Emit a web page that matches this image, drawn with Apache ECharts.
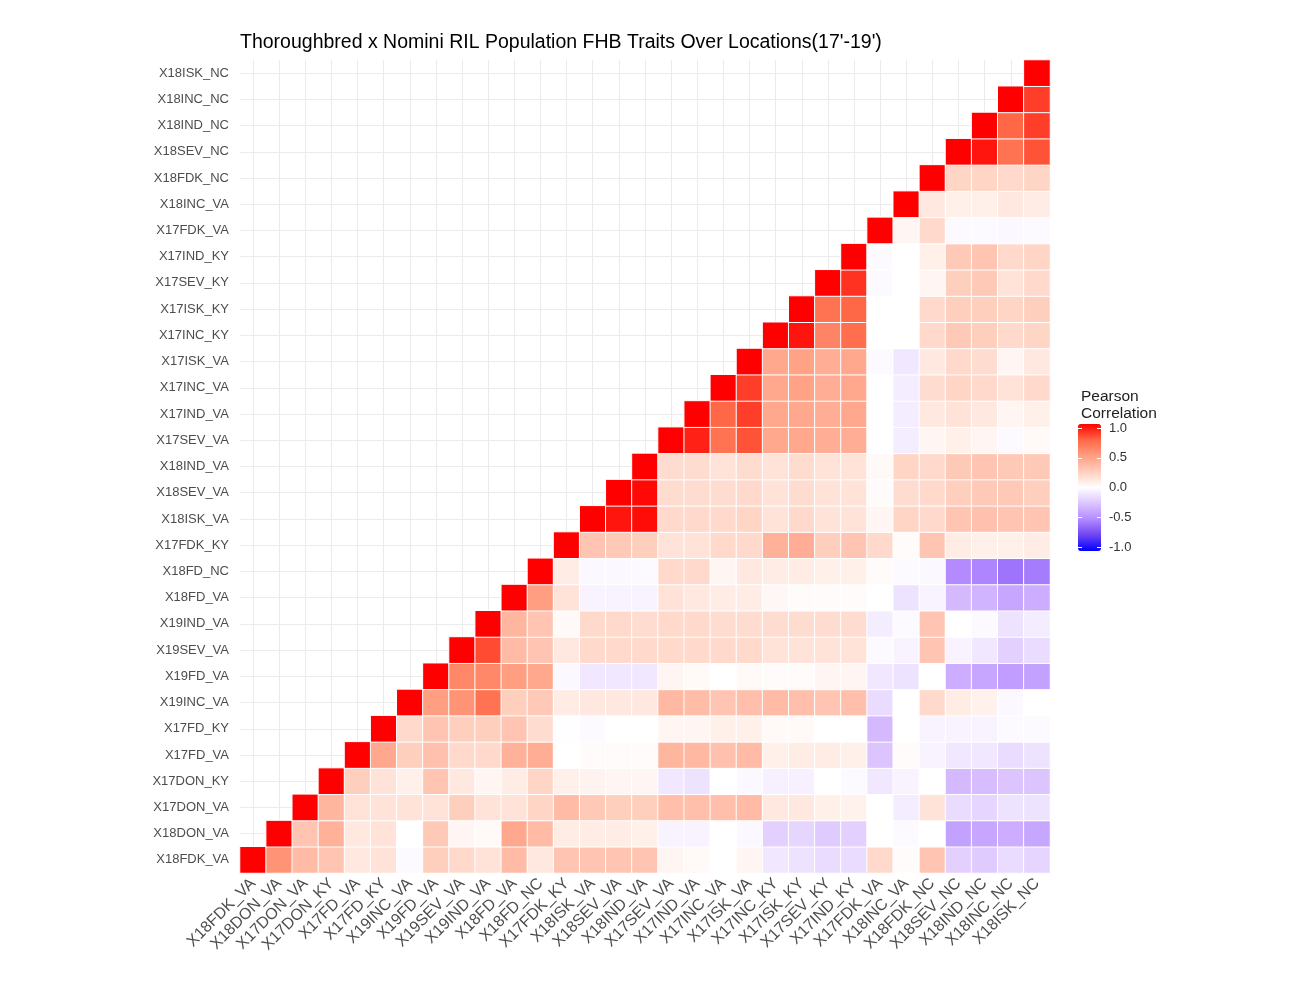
<!DOCTYPE html>
<html>
<head>
<meta charset="utf-8">
<script src="https://cdn.jsdelivr.net/npm/echarts@6/dist/echarts.min.js"></script>
<style>
html, body { margin: 0; padding: 0; background: #fff; }
#main { width: 1307px; height: 1007px; }
</style>
</head>
<body>
<div id="main"></div>
<script>
var traits = [
    'X18FDK_VA', 'X18DON_VA', 'X17DON_VA', 'X17DON_KY', 'X17FD_VA', 'X17FD_KY',
    'X19INC_VA', 'X19FD_VA', 'X19SEV_VA', 'X19IND_VA', 'X18FD_VA', 'X18FD_NC',
    'X17FDK_KY', 'X18ISK_VA', 'X18SEV_VA', 'X18IND_VA', 'X17SEV_VA', 'X17IND_VA',
    'X17INC_VA', 'X17ISK_VA', 'X17INC_KY', 'X17ISK_KY', 'X17SEV_KY', 'X17IND_KY',
    'X17FDK_VA', 'X18INC_VA', 'X18FDK_NC', 'X18SEV_NC', 'X18IND_NC', 'X18INC_NC',
    'X18ISK_NC'
];

// one array per row (bottom to top), values from the diagonal to the last column
var r_X18FDK_VA = [1, 0.55, 0.35, 0.3, 0.12, 0.15, -0.02, 0.25, 0.2, 0.15, 0.35, 0.12, 0.3, 0.3, 0.3, 0.3, 0.05, 0.03, 0, 0.05, -0.1, -0.12, -0.15, -0.15, 0.2, 0.02, 0.3, -0.2, -0.22, -0.15, -0.18];
var r_X18DON_VA = [1, 0.3, 0.4, 0.12, 0.15, 0, 0.28, 0.05, 0.03, 0.45, 0.35, 0.1, 0.1, 0.1, 0.08, -0.05, -0.05, 0, -0.03, -0.2, -0.18, -0.22, -0.2, 0, -0.02, 0, -0.4, -0.38, -0.35, -0.38];
var r_X17DON_VA = [1, 0.38, 0.15, 0.15, 0.15, 0.15, 0.25, 0.15, 0.15, 0.22, 0.35, 0.28, 0.25, 0.25, 0.33, 0.33, 0.33, 0.35, 0.12, 0.12, 0.08, 0.07, 0, -0.08, 0.15, -0.15, -0.18, -0.12, -0.12];
var r_X17DON_KY = [1, 0.25, 0.15, 0.08, 0.3, 0.12, 0.05, 0.1, 0.22, 0.08, 0.06, 0.05, 0.05, -0.1, -0.12, 0, -0.03, -0.06, -0.06, 0, -0.02, -0.1, -0.05, 0, -0.3, -0.28, -0.25, -0.25];
var r_X17FD_VA = [1, 0.45, 0.25, 0.32, 0.2, 0.2, 0.4, 0.42, 0, 0.02, 0.02, 0.02, 0.38, 0.36, 0.32, 0.35, 0.08, 0.1, 0.1, 0.08, -0.25, 0.02, -0.05, -0.1, -0.1, -0.15, -0.12];
var r_X17FD_KY = [1, 0.2, 0.3, 0.25, 0.25, 0.3, 0.18, -0.01, -0.02, 0, 0, 0.05, 0.05, 0.08, 0.08, 0.03, 0.03, 0, 0, -0.3, 0, -0.05, -0.05, -0.05, -0.02, -0.02];
var r_X19INC_VA = [1, 0.5, 0.55, 0.7, 0.25, 0.28, 0.1, 0.12, 0.12, 0.12, 0.36, 0.34, 0.3, 0.33, 0.35, 0.33, 0.3, 0.33, -0.15, 0, 0.2, 0.1, 0.07, -0.03, 0];
var r_X19FD_VA = [1, 0.6, 0.6, 0.5, 0.45, -0.03, -0.1, -0.1, -0.1, 0.05, 0.03, 0, 0.03, 0.02, 0.02, 0.05, 0.05, -0.1, -0.12, 0, -0.35, -0.38, -0.42, -0.4];
var r_X19SEV_VA = [1, 0.82, 0.35, 0.3, 0.12, 0.2, 0.2, 0.2, 0.2, 0.2, 0.2, 0.2, 0.15, 0.15, 0.15, 0.15, -0.02, -0.05, 0.3, -0.05, -0.1, -0.2, -0.15];
var r_X19IND_VA = [1, 0.38, 0.3, 0.03, 0.2, 0.2, 0.18, 0.2, 0.2, 0.18, 0.18, 0.18, 0.18, 0.18, 0.18, -0.08, -0.02, 0.3, 0, -0.02, -0.12, -0.08];
var r_X18FD_VA = [1, 0.5, 0.15, -0.05, -0.05, -0.05, 0.15, 0.12, 0.1, 0.1, 0.04, 0.02, 0.02, 0.02, 0, -0.12, -0.05, -0.3, -0.32, -0.38, -0.35];
var r_X18FD_NC = [1, 0.1, -0.03, -0.03, -0.02, 0.2, 0.2, 0.05, 0.12, 0.1, 0.1, 0.08, 0.08, 0.02, -0.02, -0.03, -0.5, -0.52, -0.58, -0.55];
var r_X17FDK_KY = [1, 0.3, 0.28, 0.25, 0.15, 0.15, 0.2, 0.2, 0.4, 0.42, 0.25, 0.3, 0.2, 0.02, 0.3, 0.1, 0.08, 0.08, 0.1];
var r_X18ISK_VA = [1, 0.95, 0.97, 0.2, 0.2, 0.2, 0.22, 0.15, 0.2, 0.15, 0.15, 0.05, 0.22, 0.2, 0.3, 0.32, 0.3, 0.3];
var r_X18SEV_VA = [1, 0.98, 0.18, 0.18, 0.18, 0.2, 0.15, 0.18, 0.15, 0.15, 0.02, 0.18, 0.2, 0.25, 0.28, 0.28, 0.25];
var r_X18IND_VA = [1, 0.18, 0.18, 0.15, 0.18, 0.15, 0.18, 0.15, 0.15, 0.03, 0.22, 0.2, 0.28, 0.3, 0.28, 0.28];
var r_X17SEV_VA = [1, 0.92, 0.7, 0.8, 0.45, 0.45, 0.42, 0.42, 0, -0.08, 0.05, 0.08, 0.05, -0.02, 0.03];
var r_X17IND_VA = [1, 0.75, 0.85, 0.45, 0.45, 0.42, 0.45, 0, -0.08, 0.12, 0.15, 0.12, 0.05, 0.08];
var r_X17INC_VA = [1, 0.85, 0.45, 0.48, 0.42, 0.45, 0, -0.08, 0.18, 0.22, 0.2, 0.15, 0.2];
var r_X17ISK_VA = [1, 0.45, 0.48, 0.42, 0.45, -0.02, -0.1, 0.12, 0.2, 0.18, 0.05, 0.12];
var r_X17INC_KY = [1, 0.95, 0.62, 0.72, 0, 0, 0.2, 0.28, 0.25, 0.2, 0.22];
var r_X17ISK_KY = [1, 0.7, 0.75, 0, 0, 0.2, 0.25, 0.25, 0.22, 0.25];
var r_X17SEV_KY = [1, 0.88, -0.02, 0, 0.05, 0.25, 0.28, 0.15, 0.2];
var r_X17IND_KY = [1, -0.02, 0, 0.08, 0.28, 0.3, 0.2, 0.22];
var r_X17FDK_VA = [1, 0.05, 0.2, -0.02, -0.02, -0.03, -0.02];
var r_X18INC_VA = [1, 0.12, 0.08, 0.08, 0.12, 0.1];
var r_X18FDK_NC = [1, 0.22, 0.22, 0.2, 0.22];
var r_X18SEV_NC = [1, 0.95, 0.7, 0.8];
var r_X18IND_NC = [1, 0.75, 0.85];
var r_X18INC_NC = [1, 0.85];
var r_X18ISK_NC = [1];

var rows = [
    r_X18FDK_VA, r_X18DON_VA, r_X17DON_VA, r_X17DON_KY, r_X17FD_VA, r_X17FD_KY,
    r_X19INC_VA, r_X19FD_VA, r_X19SEV_VA, r_X19IND_VA, r_X18FD_VA, r_X18FD_NC,
    r_X17FDK_KY, r_X18ISK_VA, r_X18SEV_VA, r_X18IND_VA, r_X17SEV_VA, r_X17IND_VA,
    r_X17INC_VA, r_X17ISK_VA, r_X17INC_KY, r_X17ISK_KY, r_X17SEV_KY, r_X17IND_KY,
    r_X17FDK_VA, r_X18INC_VA, r_X18FDK_NC, r_X18SEV_NC, r_X18IND_NC, r_X18INC_NC,
    r_X18ISK_NC
];

// blue - white - red, sampled like ggplot's Lab gradient
var fillColors = ['#0000ff', '#6f44f2', '#b38bff', '#dcc4ff', '#ffffff', '#ffcfbe', '#ff9e81', '#ff6846', '#ff0000'];

var heatData = [];
rows.forEach(function (vals, y) {
    vals.forEach(function (v, k) {
        heatData.push([y + k, y, v]);
    });
});

var fontName = 'Liberation Sans';

var dom = document.getElementById('main');
var myChart = echarts.init(dom, null, { renderer: 'canvas' });

var option = {
    backgroundColor: '#ffffff',
    animation: false,
    textStyle: { fontFamily: fontName },
    title: [
        {
            text: "Thoroughbred x Nomini RIL Population FHB Traits Over Locations(17'-19')",
            left: 235,
            top: 28,
            textStyle: { fontSize: 19.5, fontWeight: 'normal', color: '#000', fontFamily: fontName }
        },
        {
            text: 'Pearson\nCorrelation',
            left: 1076,
            top: 383,
            textStyle: { fontSize: 15.5, fontWeight: 'normal', color: '#222', lineHeight: 17, fontFamily: fontName }
        }
    ],
    grid: [
        { left: 240, top: 60, width: 810, height: 813 },
        { left: 1078, top: 428, width: 23, height: 119 }
    ],
    xAxis: [
        {
            type: 'category',
            data: traits,
            gridIndex: 0,
            axisLine: { show: false },
            axisTick: { show: false },
            axisLabel: {
                interval: 0, rotate: 45, fontSize: 16, color: '#4d4d4d',
                margin: 8, fontFamily: fontName
            },
            splitLine: { show: true, alignWithLabel: true, lineStyle: { color: '#ebebeb', width: 1 } }
        },
        {
            type: 'category',
            data: [''],
            gridIndex: 1,
            show: false
        }
    ],
    yAxis: [
        {
            type: 'category',
            data: traits,
            gridIndex: 0,
            axisLine: { show: false },
            axisTick: { show: false },
            axisLabel: { interval: 0, fontSize: 13, color: '#4d4d4d', margin: 11, fontFamily: fontName },
            splitLine: { show: true, alignWithLabel: true, lineStyle: { color: '#ebebeb', width: 1 } }
        },
        {
            type: 'value',
            gridIndex: 1,
            min: -1,
            max: 1,
            interval: 0.5,
            position: 'right',
            z: 10,
            axisLine: { show: false },
            axisTick: { show: true, inside: true, length: 4, lineStyle: { color: '#fff' } },
            splitLine: { show: false },
            axisLabel: {
                fontSize: 13, color: '#333', margin: 8, fontFamily: fontName,
                formatter: function (v) { return v.toFixed(1); }
            }
        },
        {
            type: 'value',
            gridIndex: 1,
            min: -1,
            max: 1,
            interval: 0.5,
            position: 'left',
            z: 10,
            axisLine: { show: false },
            axisTick: { show: true, inside: true, length: 4, lineStyle: { color: '#fff' } },
            splitLine: { show: false },
            axisLabel: { show: false }
        }
    ],
    visualMap: {
        type: 'continuous',
        min: -1,
        max: 1,
        seriesIndex: 0,
        calculable: false,
        orient: 'vertical',
        left: 1078,
        top: 424,
        padding: 0,
        itemWidth: 23,
        itemHeight: 127,
        inRange: { color: fillColors }
    },
    series: [
        {
            type: 'heatmap',
            xAxisIndex: 0,
            yAxisIndex: 0,
            data: heatData,
            itemStyle: { borderColor: '#ffffff', borderWidth: 1 },
            emphasis: { disabled: true }
        }
    ]
};

myChart.setOption(option);
window.addEventListener('resize', myChart.resize);
</script>
</body>
</html>
